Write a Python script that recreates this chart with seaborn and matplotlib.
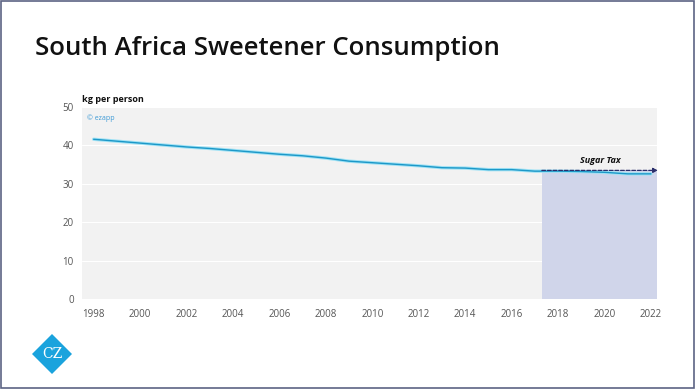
import matplotlib
matplotlib.use("Agg")
import matplotlib.pyplot as plt
import matplotlib.patches as mpatches
import matplotlib.transforms as mtransforms
import seaborn as sns
import pandas as pd

# data
years = list(range(1998, 2023))
kg_per_person = [41.6, 41.1, 40.6, 40.1, 39.6, 39.2, 38.7, 38.2, 37.7, 37.3,
                 36.7, 35.9, 35.5, 35.1, 34.7, 34.2, 34.1, 33.7, 33.7, 33.3,
                 33.3, 33.2, 33.0, 32.6, 32.6]
tax_start = 2017.3
tax_end = 2022.25
tax_level = 33.5
year_ticks = list(range(1998, 2023, 2))
y_ticks = [0, 10, 20, 30, 40, 50]

df = pd.DataFrame({"year": years, "kg": kg_per_person})

sns.set_style("whitegrid", {"axes.facecolor": "#f2f2f2", "grid.color": "white",
                            "axes.edgecolor": "#f2f2f2"})
plt.rcParams["font.family"] = ["Open Sans", "DejaVu Sans"]

fig = plt.figure(figsize=(6.95, 3.89), dpi=100)
ax = fig.add_axes([0.118, 0.231, 0.827, 0.494])

# sugar tax period
ax.fill_between([tax_start, tax_end], 0, tax_level, color="#d0d5ea", zorder=2, lw=0)

# line with a soft glow
sns.lineplot(data=df, x="year", y="kg", ax=ax, color="#9fe2f5", lw=2.4, zorder=3)
sns.lineplot(data=df, x="year", y="kg", ax=ax, color="#1c98c8", lw=1.0, zorder=4)

ax.annotate("", xy=(tax_end + 0.05, tax_level), xytext=(tax_start, tax_level),
            arrowprops=dict(arrowstyle="-|>", linestyle=(0, (3, 1.5)), color="#2b2f6b",
                            lw=0.9, mutation_scale=7, shrinkA=0, shrinkB=0),
            annotation_clip=False, zorder=5)
ax.text(2019.8, 36.2, "Sugar Tax", fontsize=6.5, fontweight="bold",
        fontstyle="italic", ha="center", va="center", color="#111111", zorder=5)

ax.set_xlim(1997.5, 2022.25)
ax.set_ylim(0, 50)
ax.set_xticks(year_ticks)
ax.set_yticks(y_ticks)
ax.grid(axis="x", visible=False)
ax.grid(axis="y", color="white", lw=0.8)
ax.set_xlabel("")
ax.set_ylabel("")
ax.tick_params(axis="both", labelsize=7, colors="#555555", length=0, pad=6)
ax.tick_params(axis="x", length=3, color="#dddddd", pad=4)
for s in ax.spines.values():
    s.set_visible(False)

ax.text(0.0, 1.015, "kg per person", transform=ax.transAxes, fontsize=6.5,
        fontweight="bold", color="#111111", ha="left", va="bottom")
ax.text(0.008, 0.94, "© ezapp", transform=ax.transAxes, fontsize=5,
        color="#3d9ad6", ha="left", va="center")

fig.text(0.05, 0.875, "South Africa Sweetener Consumption", fontsize=18.5,
         fontweight="semibold", color="#111111", ha="left", va="center")

# logo (pixel coordinates)
px = mtransforms.Affine2D().scale(1 / 695, 1 / 389) + fig.transFigure
diamond = mpatches.Polygon([(52, 55), (72, 35), (52, 15), (32, 35)], closed=True,
                           transform=px, facecolor="#1aa3dd", edgecolor="none")
fig.patches.append(diamond)
fig.text(52 / 695, 35 / 389, "CZ", fontsize=10, color="white",
         family="DejaVu Serif", ha="center", va="center")

# frame
frame = mpatches.Rectangle((0.002, 0.003), 0.996, 0.994, transform=fig.transFigure,
                           fill=False, edgecolor="#5c6384", lw=1.2)
fig.patches.append(frame)

fig.savefig("out.png", dpi=100)
